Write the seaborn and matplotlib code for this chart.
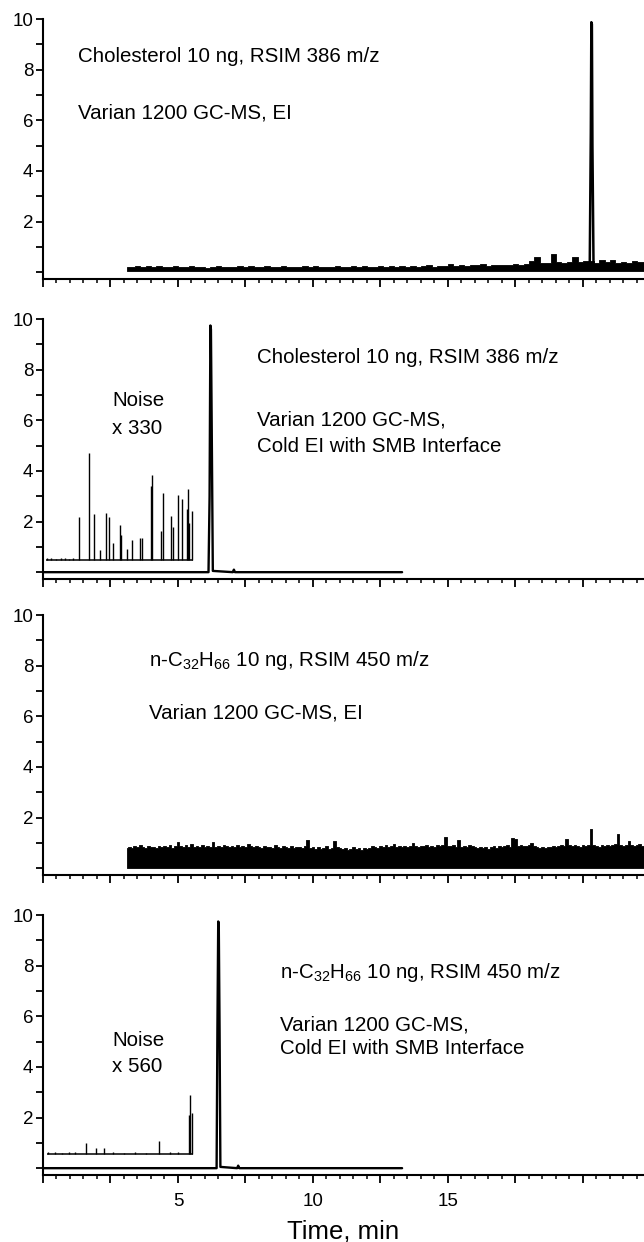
import numpy as np
import pandas as pd
import matplotlib
matplotlib.use("Agg")
import matplotlib.pyplot as plt
import seaborn as sns
from matplotlib.ticker import MultipleLocator, FixedLocator, FuncFormatter

sns.set_theme(style="ticks")
plt.rcParams['font.family'] = ['Liberation Sans', 'DejaVu Sans']
plt.rcParams['mathtext.default'] = 'regular'

# ---------------- data ----------------
# Panel 1: Cholesterol, standard EI (noise band envelope sampled every 0.2 min from 3.1 min)
ei_chol_start, ei_chol_step = 3.1, 0.2
ei_chol_floor = 0.03
ei_chol_hi = [0.22, 0.20, 0.24, 0.19, 0.23, 0.21, 0.25, 0.20, 0.22, 0.24,
              0.19, 0.21, 0.23, 0.20, 0.22, 0.18, 0.21, 0.24, 0.20, 0.22,
              0.19, 0.23, 0.21, 0.25, 0.20, 0.22, 0.24, 0.21, 0.19, 0.23,
              0.20, 0.22, 0.21, 0.24, 0.20, 0.23, 0.19, 0.22, 0.21, 0.25,
              0.22, 0.20, 0.23, 0.21, 0.24, 0.20, 0.22, 0.26, 0.21, 0.23,
              0.20, 0.24, 0.22, 0.25, 0.21, 0.23, 0.27, 0.22, 0.24, 0.26,
              0.34, 0.26, 0.28, 0.25, 0.30, 0.27, 0.34, 0.26, 0.29, 0.28,
              0.30, 0.27, 0.31, 0.29, 0.33,
              0.45, 0.58, 0.38, 0.36, 0.71, 0.40, 0.38, 0.42, 0.58, 0.40, 0.44,
              0.45, 0.38, 0.50, 0.40, 0.48, 0.36, 0.40, 0.38, 0.44, 0.42, 0.40]
ei_chol_peak_t = [20.25, 20.29, 20.31, 20.33, 20.35, 20.39]
ei_chol_peak_y = [0.25, 5.5, 9.88, 9.80, 5.0, 0.30]

# Panel 2: Cholesterol, Cold EI with SMB
cold_chol_t = [0.0, 6.13, 6.17, 6.20, 6.22, 6.25, 6.29, 7.03, 7.07, 7.11, 13.3]
cold_chol_y = [0.0, 0.0, 3.0, 9.75, 9.6, 5.6, 0.05, 0.0, 0.10, 0.0, 0.0]
noise330_span = [0.1, 5.57]
noise330_base = 0.49
noise330_t = [0.15, 0.30, 0.50, 0.65, 0.80, 0.95, 1.10,
              1.33, 1.70, 1.89, 2.11, 2.32, 2.43, 2.58, 2.85, 2.89, 3.10,
              3.31, 3.59, 3.67, 3.99, 4.05, 4.38, 4.43, 4.75, 4.80, 4.99,
              5.14, 5.33, 5.38, 5.42, 5.52]
noise330_y = [0.55, 0.55, 0.54, 0.55, 0.55, 0.54, 0.55,
              2.17, 4.70, 2.30, 0.88, 2.34, 2.17, 1.16, 1.87, 1.47, 0.92,
              1.29, 1.34, 1.36, 3.41, 3.86, 1.63, 3.13, 2.22, 1.79, 3.05,
              2.90, 2.51, 3.29, 1.96, 2.42]

# Panel 3: n-C32H66, standard EI (noise band envelope sampled every 0.1 min from 3.1 min)
ei_c32_start, ei_c32_step = 3.1, 0.1
ei_c32_floor = 0.0
ei_c32_hi = [0.80, 0.84, 0.78, 0.86, 0.82, 0.90, 0.84, 0.80, 0.86, 0.83,
             0.85, 0.79, 0.88, 0.82, 0.87, 0.84, 0.90, 0.81, 0.86, 1.03,
             0.86, 0.82, 0.92, 0.85, 0.95, 0.83, 0.88, 0.84, 0.90, 0.82,
             0.87, 0.85, 1.03, 0.84, 0.88, 0.82, 0.91, 0.86, 0.83, 0.89,
             0.85, 0.90, 0.82, 0.87, 0.84, 0.94, 0.86, 0.83, 0.88, 0.85,
             0.80, 0.86, 0.82, 0.84, 0.79, 0.92, 0.85, 0.81, 0.87, 0.84,
             0.80, 0.86, 0.78, 0.85, 0.83, 0.79, 0.88, 1.12, 0.80, 0.84,
             0.76, 0.82, 0.74, 0.80, 0.86, 0.75, 0.81, 1.06, 0.84, 0.78,
             0.74, 0.80, 0.72, 0.77, 0.82, 0.74, 0.79, 0.72, 0.81, 0.76,
             0.80, 0.86, 0.82, 0.78, 0.88, 0.84, 0.90, 0.82, 0.87, 0.96,
             0.85, 0.88, 0.83, 0.87, 0.84, 0.89, 1.00, 0.86, 0.83, 0.88,
             0.87, 0.92, 0.85, 0.89, 0.84, 0.91, 0.87, 0.90, 1.25, 0.88,
             0.86, 0.90, 0.84, 1.12, 0.85, 0.88, 0.83, 0.90, 0.86, 0.84,
             0.80, 0.85, 0.79, 0.83, 0.77, 0.82, 0.86, 0.80, 0.88, 0.84,
             0.86, 0.90, 0.84, 1.19, 1.14, 0.87, 0.92, 0.86, 0.89, 0.93,
             1.00, 0.86, 0.83, 0.78, 0.84, 0.80, 0.85, 0.82, 0.87, 0.84,
             0.88, 0.92, 0.86, 1.15, 0.90, 0.87, 0.93, 0.88, 0.85, 0.91,
             0.86, 0.90, 1.55, 0.92, 0.88, 0.85, 0.90, 0.87, 0.93, 0.88,
             0.90, 0.95, 1.36, 0.91, 0.88, 0.93, 1.06, 0.90, 0.87, 0.92,
             0.94, 0.89, 0.92]

# Panel 4: n-C32H66, Cold EI with SMB
cold_c32_t = [0.0, 6.43, 6.46, 6.49, 6.51, 6.54, 6.57, 7.19, 7.23, 7.27, 13.3]
cold_c32_y = [0.0, 0.0, 5.5, 9.75, 9.7, 5.5, 0.05, 0.0, 0.10, 0.0, 0.0]
noise560_span = [0.14, 5.54]
noise560_base = 0.57
noise560_t = [0.20, 0.45, 0.70, 0.95, 1.20, 1.60, 1.95, 2.26, 2.60, 3.00,
              3.40, 3.80, 4.31, 4.70, 5.00, 5.41, 5.44, 5.53]
noise560_y = [0.62, 0.62, 0.61, 0.62, 0.62, 1.01, 0.79, 0.79, 0.62, 0.61,
              0.62, 0.61, 1.07, 0.62, 0.62, 2.09, 2.91, 2.18]

x_major_labels = [5, 10, 15]

# ---------------- figure ----------------
W, H = 644, 1242
fig = plt.figure(figsize=(W / 100, H / 100), dpi=100)
YLIM = (-0.27, 10.0)
XLIM = (0.0, 22.26)
PX_PER_UNIT = 25.3
panel_bottoms = [279, 579, 875, 1175]
left_px = 43
ANN = 14.8


def make_axes(bottom_px):
    h = (YLIM[1] - YLIM[0]) * PX_PER_UNIT
    return fig.add_axes([left_px / W, 1 - bottom_px / H, (W - left_px) / W, h / H])


axes = [make_axes(b) for b in panel_bottoms]

for i, ax in enumerate(axes):
    ax.set_xlim(*XLIM)
    ax.set_ylim(*YLIM)
    for s in ['top', 'right']:
        ax.spines[s].set_visible(False)
    for s in ['left', 'bottom']:
        ax.spines[s].set_linewidth(1.5)
        ax.spines[s].set_color('black')
    ax.yaxis.set_major_locator(FixedLocator(list(range(0, 11))))
    ax.yaxis.set_major_formatter(FuncFormatter(
        lambda v, p: f"{int(round(v))}" if (int(round(v)) % 2 == 0 and v > 0.5) else ""))
    ax.xaxis.set_major_locator(MultipleLocator(2.5))
    ax.xaxis.set_minor_locator(MultipleLocator(0.5))
    if i == 3:
        ax.xaxis.set_major_formatter(FuncFormatter(
            lambda v, p: f"{int(round(v))}" if any(abs(v - m) < 1e-6 for m in x_major_labels) else ""))
    else:
        ax.xaxis.set_major_formatter(FuncFormatter(lambda v, p: ""))
    ax.tick_params(axis='y', which='major', direction='out', length=5, width=1.3,
                   labelsize=13.5, pad=2, colors='black')
    ax.tick_params(axis='x', which='major', direction='out', length=5.8, width=1.3,
                   labelsize=13.5, pad=7.5, colors='black')
    ax.tick_params(axis='x', which='minor', direction='out', length=3.0, width=1.3)
    ax.set_facecolor('white')
    ax.grid(False)
    ax.set_xlabel("")
    ax.set_ylabel("")

# Panel 1
ax = axes[0]
t1 = ei_chol_start + ei_chol_step * np.arange(len(ei_chol_hi))
ax.fill_between(t1, ei_chol_floor, ei_chol_hi, step='mid', color='black', lw=0.6)
sns.lineplot(x=ei_chol_peak_t, y=ei_chol_peak_y, ax=ax, color='black', lw=1.8,
             estimator=None, sort=False)

# Panel 2
ax = axes[1]
sns.lineplot(x=cold_chol_t, y=cold_chol_y, ax=ax, color='black', lw=1.7,
             estimator=None, sort=False)
ax.hlines(noise330_base, noise330_span[0], noise330_span[1], color='black', lw=1.1)
ax.vlines(noise330_t, noise330_base, noise330_y, color='black', lw=1.0)

# Panel 3
ax = axes[2]
t3 = ei_c32_start + ei_c32_step * np.arange(len(ei_c32_hi))
ax.fill_between(t3, ei_c32_floor, ei_c32_hi, step='mid', color='black', lw=0.6)

# Panel 4
ax = axes[3]
sns.lineplot(x=cold_c32_t, y=cold_c32_y, ax=ax, color='black', lw=1.7,
             estimator=None, sort=False)
ax.hlines(noise560_base, noise560_span[0], noise560_span[1], color='black', lw=1.1)
ax.vlines(noise560_t, noise560_base, noise560_y, color='black', lw=1.0)


def ftext(x, y, s, size=ANN, **kw):
    fig.text(x / W, 1 - y / H, s, fontsize=size, va='center', ha='left', color='black', **kw)


ftext(78, 57, "Cholesterol 10 ng, RSIM 386 m/z")
ftext(78, 113, "Varian 1200 GC-MS, EI")

ftext(257, 358, "Cholesterol 10 ng, RSIM 386 m/z")
ftext(257, 420, "Varian 1200 GC-MS,")
ftext(257, 447, "Cold EI with SMB Interface")
ftext(112, 401, "Noise")
ftext(112, 428, "x 330")

ftext(149, 660, "n-C$_{32}$H$_{66}$ 10 ng, RSIM 450 m/z")
ftext(149, 713, "Varian 1200 GC-MS, EI")

ftext(280, 972, "n-C$_{32}$H$_{66}$ 10 ng, RSIM 450 m/z")
ftext(280, 1025, "Varian 1200 GC-MS,")
ftext(280, 1049, "Cold EI with SMB Interface")
ftext(112, 1041, "Noise")
ftext(112, 1066, "x 560")

fig.text(343.5 / W, 1 - 1238 / H, "Time, min", fontsize=18.5, ha='center', va='baseline', color='black')

fig.savefig("out.png", dpi=100, facecolor='white')
